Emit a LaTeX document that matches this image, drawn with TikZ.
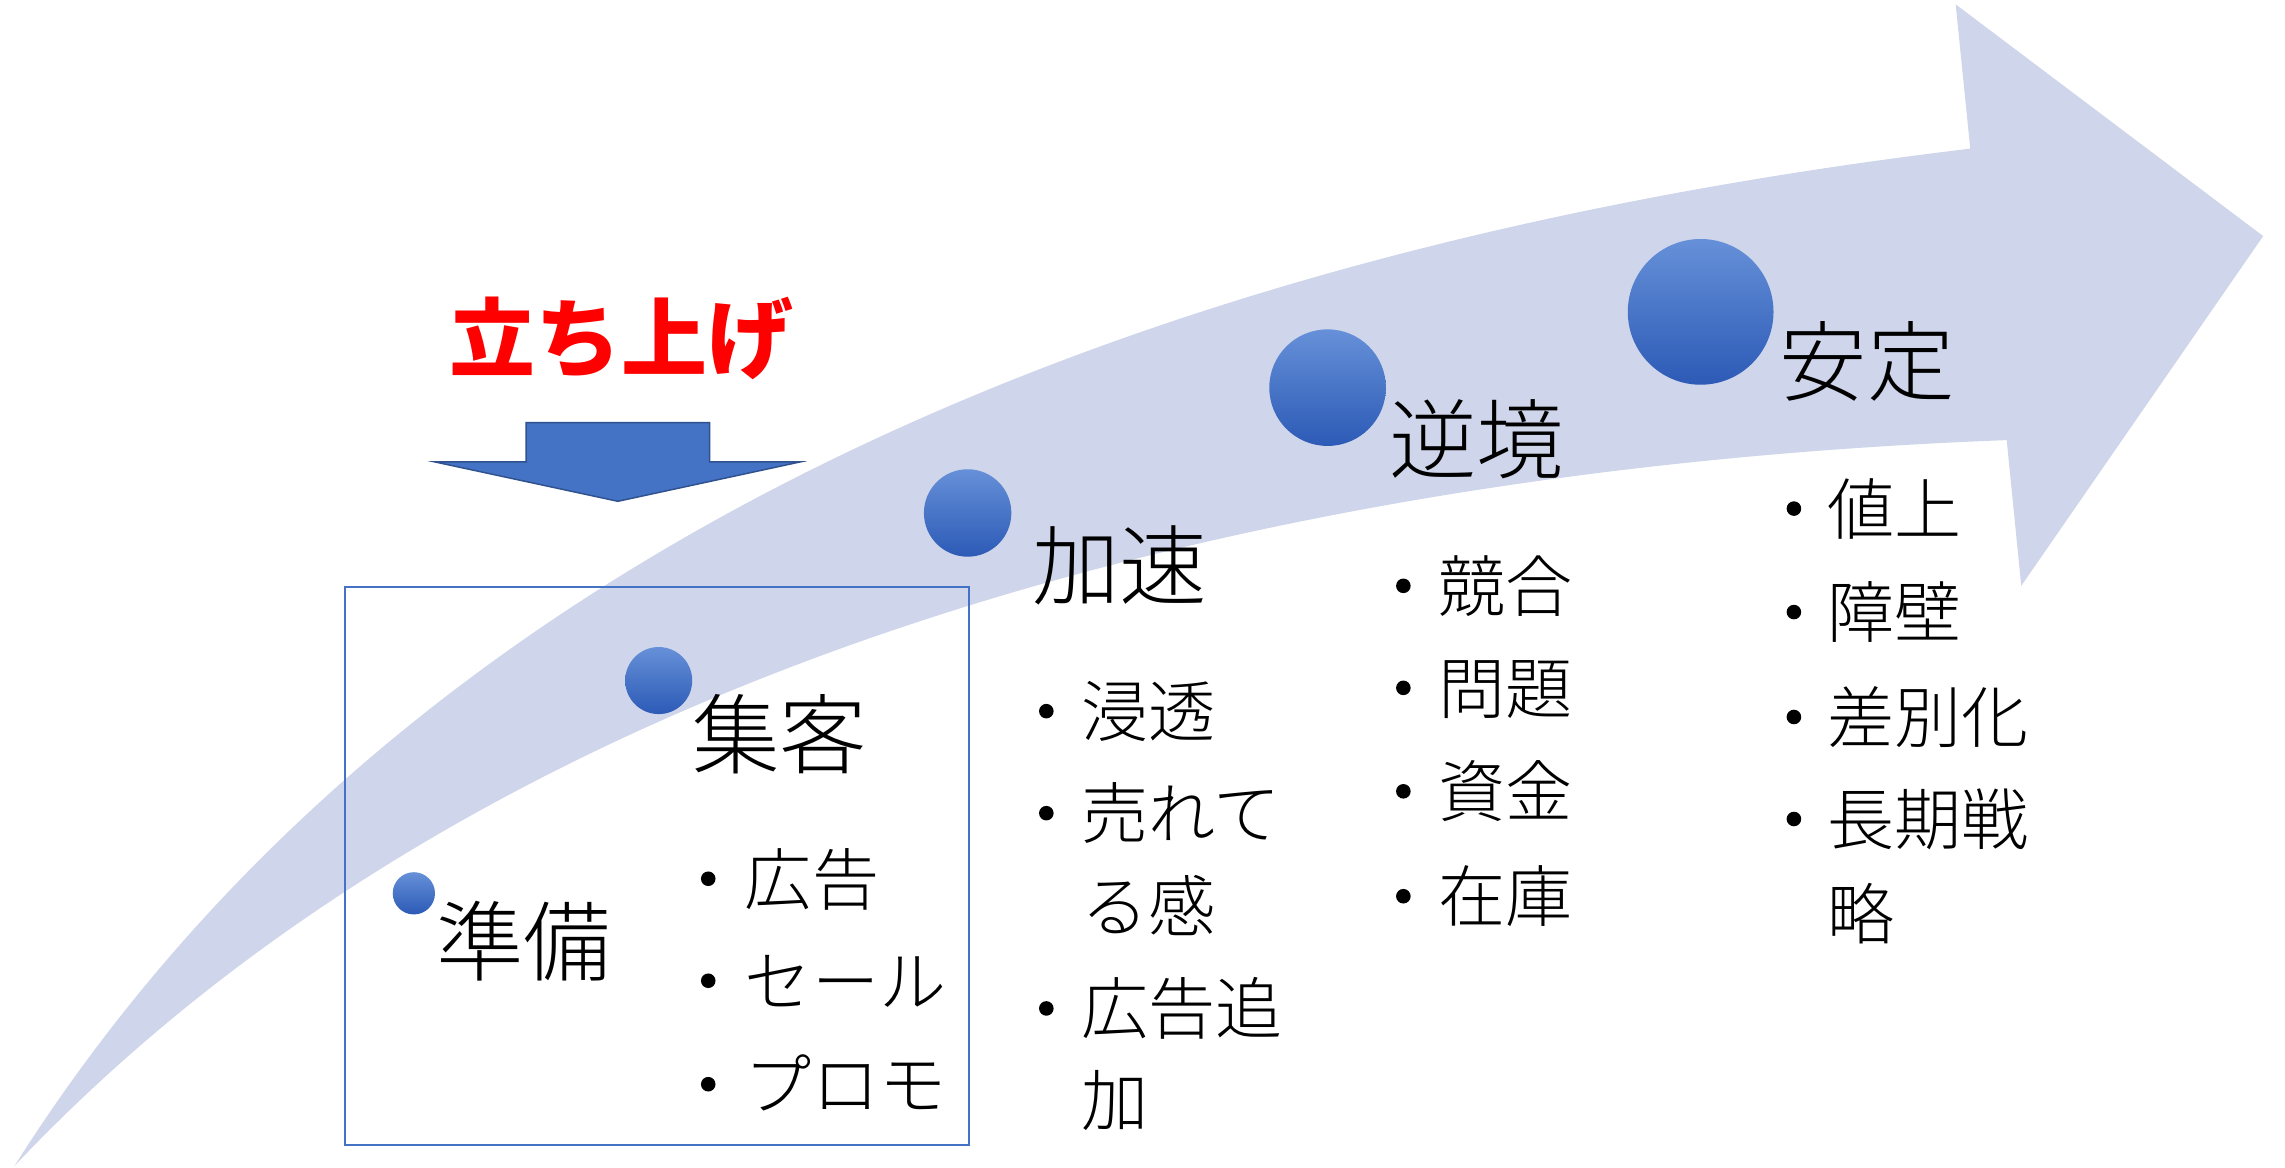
\documentclass[tikz,border=0pt]{standalone}
\usepackage{fontspec}
\newfontfamily\jp{Noto Sans CJK JP}[UprightFont=* Light]
\newfontfamily\jpb{Noto Sans CJK JP}
\definecolor{band}{HTML}{CFD5EA}
\definecolor{accent}{HTML}{4472C4}
\definecolor{accentdark}{HTML}{2F528F}
\definecolor{dottop}{HTML}{6690D8}
\definecolor{dotbot}{HTML}{2C5AB6}
\begin{document}
\begin{tikzpicture}[x=1pt,y=-1pt,
  head/.style={anchor=base west, inner sep=0pt, font=\jp\fontsize{60}{60}\selectfont},
  itm/.style={anchor=base west, inner sep=0pt, font=\jp\fontsize{46}{46}\selectfont},
  bul/.style={circle, fill=black, inner sep=0pt, minimum size=10pt},
  stage/.style={circle, inner sep=0pt, top color=dottop, bottom color=dotbot, draw=none}]
\useasboundingbox (0,0) rectangle (1568,801);
% big curved arrow
\fill[band] (10,800) .. controls (250,420) and (700,180) .. (1352,102)
  -- (1342,3) -- (1553,162) -- (1387,402) -- (1377,302)
  .. controls (900,320) and (350,440) .. (10,800) -- cycle;
% frame
\draw[accent, line width=1.3pt] (237,403) rectangle (665,786);
% down arrow
\filldraw[fill=accent, draw=accentdark, line width=1pt]
  (361,290) -- (487,290) -- (487,317) -- (549,317) -- (424,344) -- (298.5,317) -- (361,317) -- cycle;
\node[anchor=base west, inner sep=0pt, text=red, font=\jpb\bfseries\fontsize{59}{59}\selectfont] (launch) at (308,254) {立ち上げ};
% stage dots
\node[stage, minimum size=29pt] (d1) at (284,613) {};
\node[stage, minimum size=46pt] (d2) at (452,467) {};
\node[stage, minimum size=60pt] (d3) at (664,352) {};
\node[stage, minimum size=80pt] (d4) at (911,266) {};
\node[stage, minimum size=100pt] (d5) at (1167,214) {};
% headings
\node[head] (h1) at (299,669) {準備};
\node[head] (h2) at (475,527) {集客};
\node[head] (h3) at (708,411) {加速};
\node[head] (h4) at (953,324) {逆境};
\node[head] (h5) at (1221,271) {安定};
% list 2
\node[bul] (p21) at (486,603) {}; \node[itm] (t21) at (511,620.5) {広告};
\node[bul] (p22) at (486,673) {}; \node[itm] (t22) at (511,690.5) {セール};
\node[bul] (p23) at (486,744) {}; \node[itm] (t23) at (511,761.5) {プロモ};
% list 3
\node[bul] (p31) at (718,488) {}; \node[itm] (t31) at (742,505.5) {浸透};
\node[bul] (p32) at (718,558) {}; \node[itm] (t32) at (742,575.5) {売れて};
\node[itm] (t32b) at (742,639.5) {る感};
\node[bul] (p33) at (718,692) {}; \node[itm] (t33) at (742,709.5) {広告追};
\node[itm] (t33b) at (742,772.5) {加};
% list 4
\node[bul] (p41) at (963,402) {}; \node[itm] (t41) at (987,419.5) {競合};
\node[bul] (p42) at (963,472) {}; \node[itm] (t42) at (987,489.5) {問題};
\node[bul] (p43) at (963,543) {}; \node[itm] (t43) at (987,560.5) {資金};
\node[bul] (p44) at (963,615) {}; \node[itm] (t44) at (987,632.5) {在庫};
% list 5
\node[bul] (p51) at (1231,349) {}; \node[itm] (t51) at (1254,366.5) {値上};
\node[bul] (p52) at (1231,420) {}; \node[itm] (t52) at (1254,437.5) {障壁};
\node[bul] (p53) at (1231,492) {}; \node[itm] (t53) at (1254,509.5) {差別化};
\node[bul] (p54) at (1231,562) {}; \node[itm] (t54) at (1254,579.5) {長期戦};
\node[itm] (t54b) at (1254,644.5) {略};
\end{tikzpicture}
\end{document}
